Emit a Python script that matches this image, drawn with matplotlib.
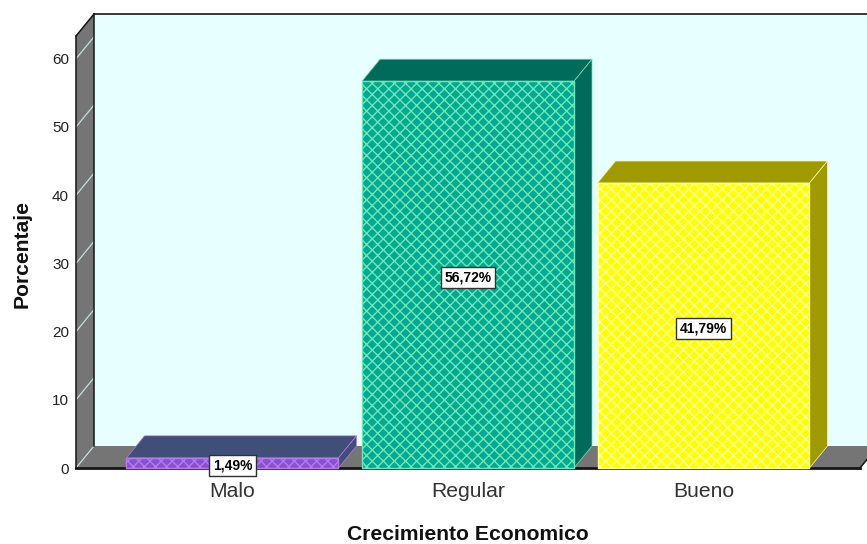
import matplotlib
matplotlib.use("Agg")
import matplotlib.pyplot as plt
from matplotlib.patches import Polygon

plt.rcParams['font.family'] = ['Liberation Sans', 'DejaVu Sans']
plt.rcParams['hatch.linewidth'] = 1.0

categories = ['Malo', 'Regular', 'Bueno']
values = [1.49, 56.72, 41.79]
value_labels = ['1,49%', '56,72%', '41,79%']
face_colors = ['#8a50d2', '#00a991', '#ffff00']
hatch_colors = ['#b57be8', '#70e6b8', '#ffff9c']
dark_colors = ['#414e78', '#006b5a', '#9f9a00']
y_ticks = [0, 10, 20, 30, 40, 50, 60]

W, H = 867, 544
fig = plt.figure(figsize=(W / 100, H / 100), dpi=100, facecolor='white')
L, R, T, B = 76, 860, 36, 468
ax = fig.add_axes([L / W, (H - B) / H, (R - L) / W, (B - T) / H])
PX_X, PX_Y = 235.5, 6.82
x0 = 232.5
ax.set_xlim((L - x0) / PX_X, (R - x0) / PX_X)
ax.set_ylim(0, (B - T) / PX_Y)
ax.patch.set_alpha(0)
for s in ax.spines.values():
    s.set_visible(False)

dx, dy = 18 / PX_X, 22 / PX_Y
xl, xr = ax.get_xlim()
yb, yt = ax.get_ylim()
wall_back = '#e8ffff'
grey = '#757575'


def poly(pts, fc, ec='none', lw=0, z=1):
    ax.add_patch(Polygon(pts, closed=True, fc=fc, ec=ec, lw=lw, zorder=z, clip_on=False))


# back wall, left wall, floor
poly([(xl + dx, yb + dy), (xr + dx, yb + dy), (xr + dx, yt + dy), (xl + dx, yt + dy)], wall_back, z=1)
poly([(xl, yb), (xl + dx, yb + dy), (xl + dx, yt + dy), (xl, yt)], grey, z=1.1)
poly([(xl, yb), (xr, yb), (xr + dx, yb + dy), (xl + dx, yb + dy)], grey, z=1.1)

for t in y_ticks:
    ax.plot([xl, xl + dx], [t, t + dy], color='#c4dcdc', lw=0.9, zorder=1.2, clip_on=False)

# frame lines
ax.plot([xl + dx, xr + dx], [yt + dy, yt + dy], color='#151515', lw=1.2, zorder=1.3, clip_on=False)
ax.plot([xl + dx, xl + dx], [yb + dy, yt + dy], color='#151515', lw=1.1, zorder=1.3, clip_on=False)
ax.plot([xl, xl + dx], [yt, yt + dy], color='#151515', lw=1.1, zorder=1.3, clip_on=False)
ax.plot([xl, xl], [yb, yt], color='#151515', lw=1.1, zorder=1.3, clip_on=False)
ax.plot([xl, xr], [yb, yb], color='#151515', lw=2.0, zorder=1.4, clip_on=False)
ax.plot([xr, xr + dx], [yb, yb + dy], color='#151515', lw=1.1, zorder=1.4, clip_on=False)

# bars
positions = list(range(len(categories)))
width = 212 / PX_X
for i, (v, fc, hc, dc) in enumerate(zip(values, face_colors, hatch_colors, dark_colors)):
    a, b = i - width / 2, i + width / 2
    poly([(a, v), (b, v), (b + dx, v + dy), (a + dx, v + dy)], dc, ec=hc, lw=0.5, z=2)
    poly([(b, 0), (b + dx, dy), (b + dx, v + dy), (b, v)], dc, ec=hc, lw=0.5, z=2)
    ax.bar(i, v, width=width, color=fc, edgecolor=hc, hatch='xxx', lw=1.0, zorder=3, clip_on=False)
    ax.annotate(value_labels[i], (i, v / 2), xytext=(0, -2), textcoords='offset points',
                ha='center', va='center', fontsize=10, fontweight='bold', color='black',
                zorder=5, annotation_clip=False,
                bbox=dict(boxstyle='square,pad=0.25', fc='white', ec='#303030', lw=1.0))

ax.set_xticks(positions, categories, fontsize=15.2, color='#333333')
ax.set_yticks(y_ticks, [str(t) for t in y_ticks], fontsize=11, color='#222222')
ax.tick_params(axis='x', length=0, pad=10)
ax.tick_params(axis='y', length=0, pad=5)

fig.text(468 / W, 1 - 534.5 / H, 'Crecimiento Economico', ha='center', va='center',
         fontsize=15.2, fontweight='bold', color='#111111')
fig.text(22 / W, 1 - 253.5 / H, 'Porcentaje', ha='center', va='center', rotation=90,
         fontsize=15.2, fontweight='bold', color='#111111')

fig.savefig('out.png', dpi=100, facecolor='white')
